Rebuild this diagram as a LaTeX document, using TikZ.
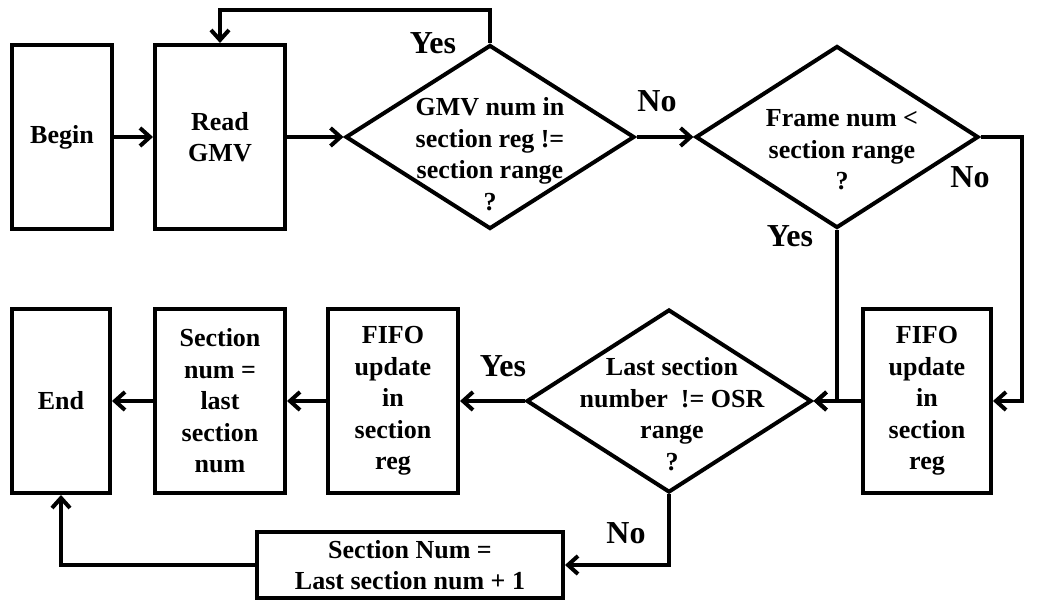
\documentclass[tikz,border=0pt]{standalone}
\usepackage{fontspec}
\setmainfont{Liberation Serif}
\usetikzlibrary{shapes.geometric,arrows.meta}
\newcommand\boxfont{\fontsize{26}{31.5}\selectfont\bfseries}
\newcommand\tagfont{\fontsize{32}{36}\selectfont\bfseries}
\begin{document}
\begin{tikzpicture}[x=1pt,y=-1pt,line width=4pt,
  box/.style={draw,rectangle,inner sep=0pt,align=center,font=\boxfont},
  decision/.style={draw,diamond,inner sep=0pt},
  dtext/.style={align=center,font=\boxfont,inner sep=0pt},
  tag/.style={font=\tagfont,inner sep=0pt},
  arr/.style={-{Straight Barb[length=10pt,width=18pt]}}]
\useasboundingbox (0,0) rectangle (1037,601);

% process boxes
\node[box,minimum width=100pt,minimum height=184pt] (begin) at (62,137) {Begin};
\node[box,minimum width=130pt,minimum height=184pt] (read) at (220,137) {Read\\GMV};
\node[box,minimum width=98pt,minimum height=184pt] (end) at (61,401) {End};
\node[box,minimum width=130pt,minimum height=184pt] (sec) at (220,401) {Section\\num =\\last\\section\\num};
\node[box,minimum width=130pt,minimum height=184pt] (fifoL) at (393,401) {FIFO\\update\\in\\section\\reg};
\node[box,minimum width=128pt,minimum height=184pt] (fifoR) at (927,401) {FIFO\\update\\in\\section\\reg};
\node[box,minimum width=306pt,minimum height=66pt] (snum) at (410,565) {Section Num =\\Last section num + 1};

% decisions
\node[decision,minimum width=289pt,minimum height=184pt] (d1) at (490,137) {};
\node[dtext] (d1t) at (490,154) {GMV num in\\section reg !=\\section range\\?};
\node[decision,minimum width=283pt,minimum height=182pt] (d2) at (837,137) {};
\node[dtext] (d2t) at (842,150) {Frame num <\\section range\\?};
\node[decision,minimum width=285pt,minimum height=183pt] (d3) at (669,401) {};
\node[dtext] (d3t) at (672,414) {Last section\\number\ \ != OSR\\range\\?};

% branch labels
\node[tag] (yes1) at (433,43) {Yes};
\node[tag] (no1) at (657,101) {No};
\node[tag] (no2) at (970,177) {No};
\node[tag] (yes2) at (790,236) {Yes};
\node[tag] (yes3) at (503,366) {Yes};
\node[tag] (no3) at (626,533) {No};

% flow
\draw[arr] (begin) -- (read);
\draw[arr] (read) -- (d1.west);
\draw[arr] (d1.north) -- ++(0,-33) -| (read.north);
\draw[arr] (d1.east) -- (d2.west);
\draw[arr] (d2.east) -- (1022,137) |- (fifoR.east);
\draw[arr] (d2.south) |- (d3.east);
\draw[arr] (fifoR.west) -- (d3.east);
\draw[arr] (d3.west) -- (fifoL.east);
\draw[arr] (fifoL.west) -- (sec.east);
\draw[arr] (sec.west) -- (end.east);
\draw[arr] (d3.south) |- (snum.east);
\draw[arr] (snum.west) -| (end.south);
\end{tikzpicture}
\end{document}
